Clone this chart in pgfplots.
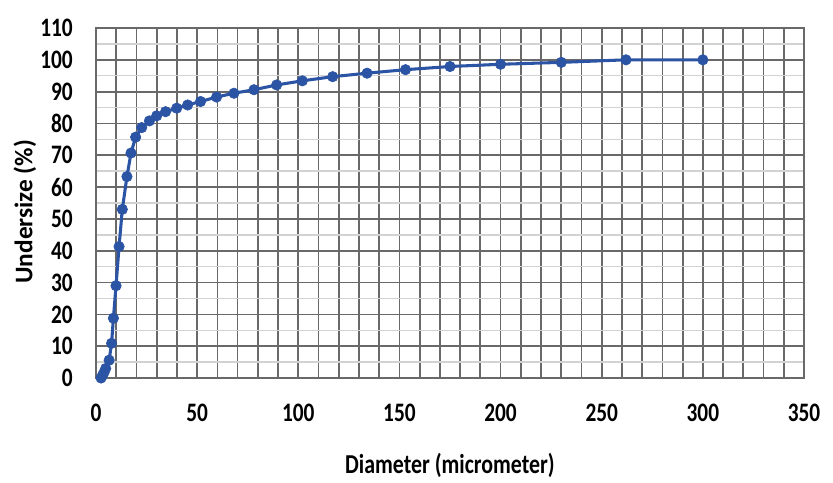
\documentclass[border=0pt]{standalone}
\usepackage{fontspec}
\setmainfont{Carlito}
\newfontfamily\cond{Carlito}[FakeStretch=0.8]
\usepackage{pgfplots}
\usetikzlibrary{calc}
\pgfplotsset{compat=1.18}
\definecolor{lineblue}{RGB}{44,84,164}
\definecolor{gridgray}{RGB}{105,105,105}
\definecolor{minorgray}{RGB}{210,210,210}
\begin{document}
\begin{tikzpicture}
\begin{axis}[
  scale only axis, width=531pt, height=262.5pt,
  xmin=0, xmax=350, ymin=0, ymax=110,
  /pgf/number format/assume math mode=true,
  xtick={0,10,...,350},
  xticklabels={0,,,,,50,,,,,100,,,,,150,,,,,200,,,,,250,,,,,300,,,,,350},
  ytick={0,10,...,110},
  minor ytick={5,15,...,105},
  grid=both,
  major grid style={gridgray, line width=1.3pt},
  minor grid style={minorgray, line width=1.1pt},
  tick style={draw=none},
  axis line style={gridgray, line width=1.3pt},
  ticklabel style={font=\cond\bfseries\fontsize{20}{20}\selectfont, inner sep=0pt},
  xticklabel style={anchor=center, yshift=-26.25pt},
  yticklabel style={anchor=east, xshift=-17.25pt},
  xlabel={Diameter (micrometer)},
  ylabel={Undersize (\%)},
  xlabel style={font=\cond\bfseries\fontsize{20.5}{20.5}\selectfont, at={(axis description cs:0.5,-0.251)}, anchor=center},
  ylabel style={font=\bfseries\fontsize{19}{19}\selectfont, at={(axis description cs:-0.1003,0.475)}, anchor=center},
]
\coordinate (ll) at (rel axis cs:0,0);
\coordinate (ur) at (rel axis cs:1,1);
\addplot[lineblue, line width=2.3pt, mark=*, mark size=3.9pt, mark options={fill=lineblue, draw=lineblue, line width=0.5pt}] coordinates {
(2.5,0) (3.2,0.8) (4,1.8) (4.8,3) (6.5,5.6) (7.7,10.9) (8.6,18.8) (9.9,29)
(11.4,41.3) (13,53) (15.3,63.3) (17.3,70.7) (19.6,75.7) (22.6,78.7) (26.4,80.8)
(30,82.4) (34.4,83.7) (39.9,84.8) (45.3,85.8) (51.7,86.9) (59.6,88.3) (68.2,89.5)
(78.1,90.6) (89.3,92.1) (102,93.4) (117,94.7) (134,95.8) (153,96.9) (175,97.9)
(200,98.6) (230,99.2) (262,100) (300,100)
};
\end{axis}
\pgfresetboundingbox
\path ($(ll)+(-72pt,-78pt)$) rectangle ($(ur)+(21.75pt,21pt)$);
\end{tikzpicture}
\end{document}
